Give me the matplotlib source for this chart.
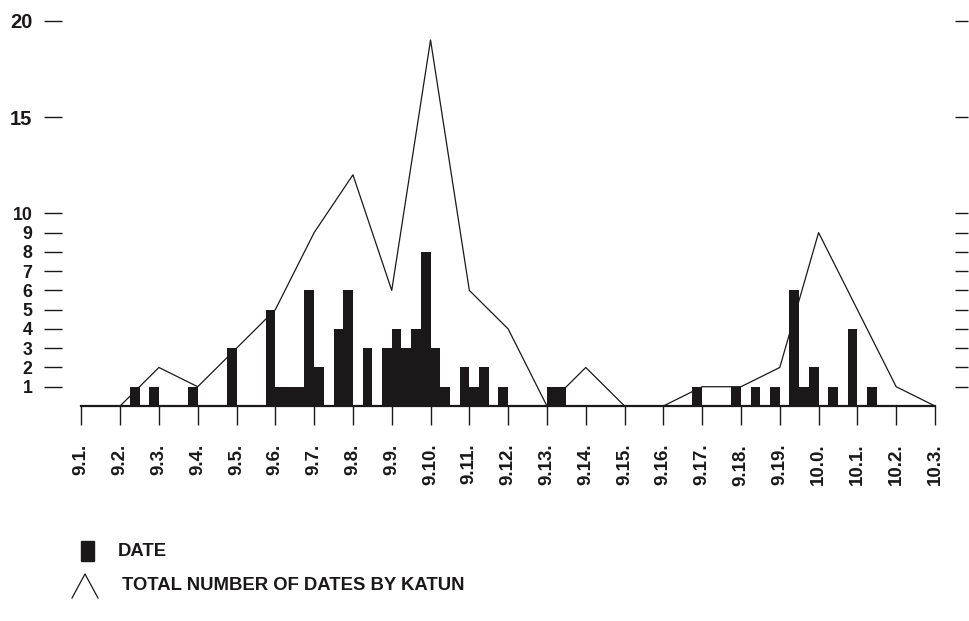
import matplotlib
matplotlib.use("Agg")
from matplotlib import pyplot as plt
from matplotlib.patches import Rectangle
from matplotlib.lines import Line2D

plt.rcParams['font.family'] = ['Liberation Sans', 'DejaVu Sans']
plt.rcParams['font.weight'] = 'bold'

# katun tick labels and total dates per katun (line)
katuns = ['9.1.', '9.2.', '9.3.', '9.4.', '9.5.', '9.6.', '9.7.', '9.8.', '9.9.', '9.10.',
          '9.11.', '9.12.', '9.13.', '9.14.', '9.15.', '9.16.', '9.17.', '9.18.', '9.19.',
          '10.0.', '10.1.', '10.2.', '10.3.']
katun_totals = [0, 0, 2, 1, 3, 5, 9, 12, 6, 19, 6, 4, 0, 2, 0, 0, 1, 1, 2, 9, 5, 1, 0]

# dates grouped in 5-tun bins (bar starts at the given date)
date_bins = ['9.2.5', '9.2.15', '9.3.15', '9.4.15', '9.5.15',
             '9.6.0', '9.6.5', '9.6.10', '9.6.15',
             '9.7.0', '9.7.10', '9.7.15', '9.8.5', '9.8.15',
             '9.9.0', '9.9.5', '9.9.10', '9.9.15',
             '9.10.0', '9.10.5', '9.10.15', '9.11.0', '9.11.5', '9.11.15',
             '9.13.0', '9.13.5', '9.16.15', '9.17.15', '9.18.5', '9.18.15',
             '9.19.5', '9.19.10', '9.19.15', '10.0.5', '10.0.15', '10.1.5']
date_counts = [1, 1, 1, 3, 5,
               1, 1, 1, 6,
               2, 4, 6, 3, 3,
               4, 3, 4, 8,
               3, 1, 2, 1, 2, 1,
               1, 1, 1, 1, 1, 1,
               6, 1, 2, 1, 4, 1]

y_ticks = [1, 2, 3, 4, 5, 6, 7, 8, 9, 10, 15, 20]


def bin_pos(d):
    a, b, c = d.split('.')
    return katuns.index(a + '.' + b + '.') + int(c) / 20


ink = '#1a1819'
W, H = 969, 621
fig = plt.figure(figsize=(W / 100, H / 100), dpi=100)
ax = fig.add_axes([81.3 / W, 1 - 406 / H, (935 - 81.3) / W, (406 - 20.7) / H])

xs = list(range(len(katuns)))
ax.bar([bin_pos(d) for d in date_bins], date_counts, width=0.25, align='edge',
       color=ink, linewidth=0, zorder=2)
ax.plot(xs, katun_totals, color=ink, lw=0.9, zorder=3, clip_on=False)

ax.set_xlim(0, len(katuns) - 1)
ax.set_ylim(0, 20)

ax.spines['top'].set_visible(False)
ax.spines['bottom'].set_linewidth(1.6)
ax.spines['bottom'].set_color(ink)
ax.spines['left'].set_position(('outward', 14.1))
ax.spines['left'].set_visible(False)
ax.spines['right'].set_position(('outward', 14.4))
ax.spines['right'].set_visible(False)

ax.set_xticks(xs)
ax.set_xticklabels(katuns, rotation=90, fontsize=13.5, fontweight='bold', color=ink)
ax.tick_params(axis='x', length=13.7, width=1.0, color=ink, pad=13.5, direction='out')

ax.set_yticks(y_ticks)
ax.set_yticklabels([str(v) for v in y_ticks], color=ink)
for lab, v in zip(ax.get_yticklabels(), y_ticks):
    lab.set_fontsize(14.5 if v >= 15 else 12.8)
    lab.set_fontweight('bold')
ax.tick_params(axis='y', which='both', left=True, right=True, labelleft=True,
               labelright=False, width=1.0, color=ink, direction='out', pad=8)
ax.yaxis.set_tick_params(length=13.2)
for t in ax.yaxis.get_major_ticks():
    t.tick2line.set_markersize(9.4)

# legend drawn by hand below the chart
lg = fig.add_axes([0, 0, 1, 1])
lg.set_xlim(0, W)
lg.set_ylim(H, 0)
lg.axis('off')
lg.add_patch(Rectangle((81, 541), 13, 20, color=ink))
lg.text(118, 552, 'DATE', fontsize=13.3, fontweight='bold', va='center', color=ink)
lg.add_line(Line2D([72, 85, 98], [598, 574, 598], color=ink, lw=0.9))
lg.text(122, 586, 'TOTAL NUMBER OF DATES BY KATUN', fontsize=13.3, fontweight='bold',
        va='center', color=ink)

fig.savefig('out.png', dpi=100)
